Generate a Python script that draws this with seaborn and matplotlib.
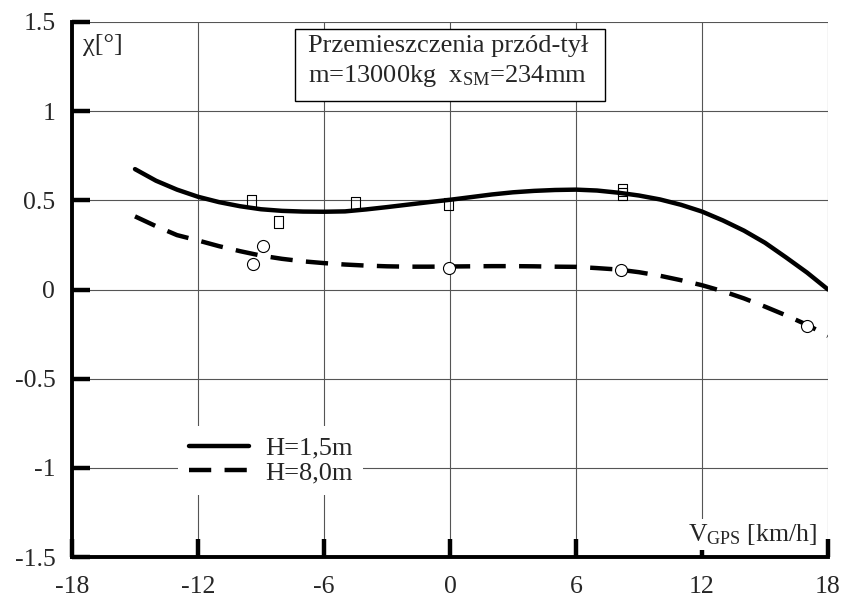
import numpy as np
import pandas as pd
import matplotlib
matplotlib.use("Agg")
import matplotlib.pyplot as plt
from matplotlib.path import Path
from matplotlib.patches import Rectangle
import seaborn as sns

# Fitted curves: roll angle chi [deg] vs GPS speed [km/h]
v_curve = [-15, -14, -13, -12, -11, -10, -9, -8, -7, -6, -5, -4, -3, -2, -1, 0,
           1, 2, 3, 4, 5, 6, 7, 8, 9, 10, 11, 12, 13, 14, 15, 16, 17, 18]
chi_h15 = [0.675, 0.61, 0.56, 0.52, 0.49, 0.467, 0.45, 0.441, 0.437, 0.436, 0.438,
           0.449, 0.462, 0.476, 0.49, 0.503, 0.518, 0.533, 0.545, 0.553, 0.558, 0.56,
           0.555, 0.543, 0.527, 0.505, 0.475, 0.437, 0.387, 0.33, 0.262, 0.18, 0.095, 0.0]
chi_h80 = [0.41, 0.355, 0.305, 0.275, 0.243, 0.215, 0.19, 0.172, 0.158, 0.148, 0.14,
           0.134, 0.13, 0.128, 0.128, 0.129, 0.13, 0.131, 0.131, 0.13, 0.128, 0.127,
           0.12, 0.112, 0.097, 0.077, 0.052, 0.024, -0.01, -0.05, -0.096, -0.145, -0.198, -0.26]

# Measured points
v_sq = [-9.44, -8.17, -4.48, -0.05, 8.2, 8.22]
chi_sq = [0.496, 0.378, 0.485, 0.481, 0.556, 0.535]
v_circ = [-8.89, -9.37, -0.05, 8.13, 17.0]
chi_circ = [0.243, 0.144, 0.122, 0.110, -0.202]

x_ticks = [-18, -12, -6, 0, 6, 12, 18]
y_ticks = [-1.5, -1.0, -0.5, 0.0, 0.5, 1.0, 1.5]
y_tick_labels = ["-1.5", "-1", "-0.5", "0", "0.5", "1", "1.5"]
series_labels = ["H=1,5m", "H=8,0m"]

sns.set_style("white")
plt.rcParams["font.family"] = ["Liberation Serif", "DejaVu Serif"]
plt.rcParams["mathtext.fontset"] = "custom"
plt.rcParams["mathtext.rm"] = "Liberation Serif"
plt.rcParams["mathtext.it"] = "Liberation Serif"

fig = plt.figure(figsize=(8.43, 6.03), dpi=100)
ax = fig.add_axes([72 / 843, 46 / 603, 756 / 843, 535 / 603])

df1 = pd.DataFrame({"v": v_curve, "chi": chi_h15})
df2 = pd.DataFrame({"v": v_curve, "chi": chi_h80})
lw = 3.2
sns.lineplot(data=df1, x="v", y="chi", ax=ax, color="black", lw=lw,
             estimator=None, sort=False, label=series_labels[0], zorder=4)
sns.lineplot(data=df2, x="v", y="chi", ax=ax, color="black", lw=lw,
             estimator=None, sort=False, label=series_labels[1], zorder=4)
ax.lines[1].set_dashes((5.0, 3.0))

# Open, slightly tall rectangles for the H=1.5 m measurements
rect_marker = Path([(-0.37, -0.5), (0.37, -0.5), (0.37, 0.5), (-0.37, 0.5), (-0.37, -0.5)],
                   [Path.MOVETO, Path.LINETO, Path.LINETO, Path.LINETO, Path.CLOSEPOLY])
sns.scatterplot(x=v_sq, y=chi_sq, ax=ax, marker=rect_marker, s=75,
                facecolor="none", edgecolor="black", linewidth=0.8, zorder=5)
sns.scatterplot(x=v_circ, y=chi_circ, ax=ax, marker="o", s=75,
                facecolor="white", edgecolor="black", linewidth=0.8, zorder=5)

ax.set_xlim(-18, 18)
ax.set_ylim(-1.5, 1.5)
ax.set_xticks(x_ticks)
ax.set_xticklabels([str(t) for t in x_ticks])
ax.set_yticks(y_ticks)
ax.set_yticklabels(y_tick_labels)
ax.set_xlabel("")
ax.set_ylabel("")

ax.grid(True, color="#555555", lw=0.8, zorder=0)
ax.set_axisbelow(True)
for s in ["top", "right"]:
    ax.spines[s].set_visible(False)
for s in ["left", "bottom"]:
    ax.spines[s].set_linewidth(2.8)
    ax.spines[s].set_color("black")
ax.tick_params(axis="both", which="major", direction="in", length=13, width=3.2,
               color="black", labelsize=18.5, bottom=True, left=True,
               top=False, right=False)
ax.tick_params(axis="y", pad=12)
ax.tick_params(axis="x", pad=14)

# Axis captions inside the plot
ax.text(0.014, 0.957, "χ[°]", transform=ax.transAxes, fontsize=19,
        ha="left", va="center", zorder=6)
ax.text(0.986, 0.030, r"V$_{\mathrm{GPS}}$ [km/h]", transform=ax.transAxes,
        fontsize=18.5, ha="right", va="baseline", zorder=6,
        bbox=dict(fc="white", ec="none", pad=2))

# Boxed description
ax.add_patch(Rectangle((0.295, 0.852), 0.41, 0.135, transform=ax.transAxes,
                       fc="white", ec="black", lw=1.0, zorder=6))
ax.text(0.312, 0.944, "Przemieszczenia przód-tył", transform=ax.transAxes,
        fontsize=19, ha="left", va="baseline", zorder=7)
ax.text(0.312, 0.888, r"m=13000kg  x$_{\mathrm{SM}}$=234mm", transform=ax.transAxes,
        fontsize=19, ha="left", va="baseline", zorder=7)

leg = ax.legend(loc="upper left", bbox_to_anchor=(0.123, 0.27), fontsize=19,
                frameon=True, fancybox=False, framealpha=1, facecolor="white",
                edgecolor="none", handlelength=2.3, handletextpad=0.6,
                labelspacing=0.05, borderpad=0.4)
leg.set_zorder(6)

fig.savefig("out.png", dpi=100)
